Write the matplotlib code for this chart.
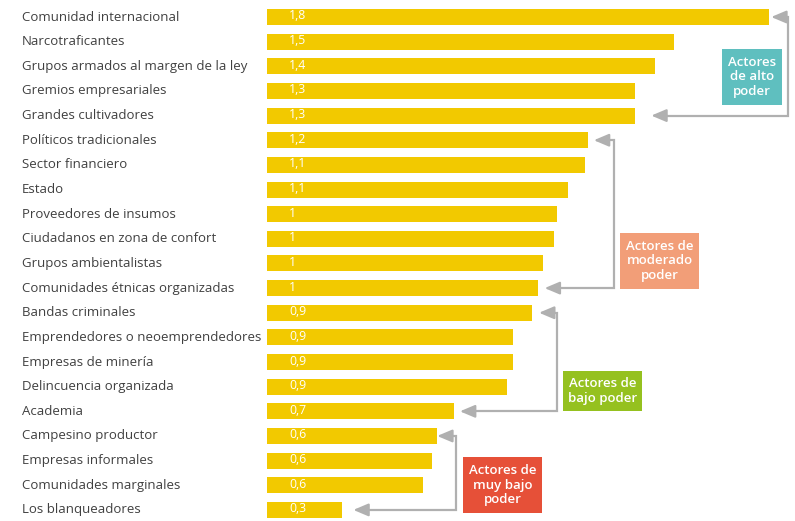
import numpy as np
import matplotlib
matplotlib.use('Agg')
import matplotlib.pyplot as plt
from matplotlib.patches import Rectangle

plt.rcParams['font.family'] = ['Open Sans', 'DejaVu Sans']

# data (bar lengths) and the printed value labels
actores = ['Comunidad internacional', 'Narcotraficantes', 'Grupos armados al margen de la ley',
           'Gremios empresariales', 'Grandes cultivadores', 'Políticos tradicionales',
           'Sector financiero', 'Estado', 'Proveedores de insumos', 'Ciudadanos en zona de confort',
           'Grupos ambientalistas', 'Comunidades étnicas organizadas', 'Bandas criminales',
           'Emprendedores o neoemprendedores', 'Empresas de minería', 'Delincuencia organizada',
           'Academia', 'Campesino productor', 'Empresas informales', 'Comunidades marginales',
           'Los blanqueadores']
poder = [1.80, 1.46, 1.39, 1.32, 1.32, 1.15, 1.14, 1.08, 1.04, 1.03, 0.99, 0.97, 0.95,
         0.88, 0.88, 0.86, 0.67, 0.61, 0.59, 0.56, 0.27]
etiquetas = ['1,8', '1,5', '1,4', '1,3', '1,3', '1,2', '1,1', '1,1', '1', '1', '1', '1', '0,9',
             '0,9', '0,9', '0,9', '0,7', '0,6', '0,6', '0,6', '0,3']

# groups: label, box colour, first bar, last bar
grupos = [('Actores\nde alto\npoder', '#5fbfbf', 0, 4),
          ('Actores de\nmoderado\npoder', '#f29e78', 5, 11),
          ('Actores de\nbajo poder', '#95c11f', 12, 16),
          ('Actores de\nmuy bajo\npoder', '#e65038', 17, 20)]

W, H = 795, 521
fig = plt.figure(figsize=(W / 100, H / 100), dpi=100)
ax = fig.add_axes([267 / W, 0, 528 / W, 1])
scale = 279.0  # px per unit
ax.set_xlim(0, 528 / scale)
y = np.arange(len(actores))
ax.set_ylim(20.45, -0.69)
ax.barh(y, poder, height=0.65, color='#f2c900')
ax.axis('off')

for yi, nombre, lab in zip(y, actores, etiquetas):
    ax.text(-245 / scale, yi, nombre, ha='left', va='center', fontsize=9.5,
            color='#404040', clip_on=False)
    ax.text(22 / scale, yi + 0.1, lab, ha='left', va='baseline', fontsize=8.8,
            color='white')

# bracket x positions (px from bar start) and arrow gaps
brackets = [(521, 2, 16), (347, 6, 7), (290, 7, 6), (189, 0, 11)]
boxes = [(722, 49, 60, 56), (620, 233, 79, 56), (563, 371, 79, 40), (463, 457, 79, 56)]

for (txt, col, a, b), (lx, g1, g2), (bx, by, bw, bh) in zip(grupos, brackets, boxes):
    xl = lx / scale
    x1 = poder[a] + g1 / scale
    x2 = poder[b] + g2 / scale
    ax.plot([x1 + 0.03, xl, xl, x2 + 0.03], [a, a, b, b], color='#b0b0b0', lw=1.6,
            clip_on=False, solid_joinstyle='miter')
    for xt, yt in [(x1, a), (x2, b)]:
        ax.annotate('', xy=(xt, yt), xytext=(xt + 0.055, yt),
                    arrowprops=dict(arrowstyle='-|>,head_length=0.9,head_width=0.38',
                                    color='#b0b0b0', lw=1.6, shrinkA=0, shrinkB=0))
    fig.add_artist(Rectangle((bx / W, 1 - (by + bh) / H), bw / W, bh / H,
                             transform=fig.transFigure, color=col, lw=0))
    fig.text((bx + bw / 2) / W, 1 - (by + bh / 2) / H, txt, ha='center', va='center',
             color='white', fontsize=9.5, fontweight='semibold', linespacing=1.15)

fig.savefig('out.png', dpi=100)
